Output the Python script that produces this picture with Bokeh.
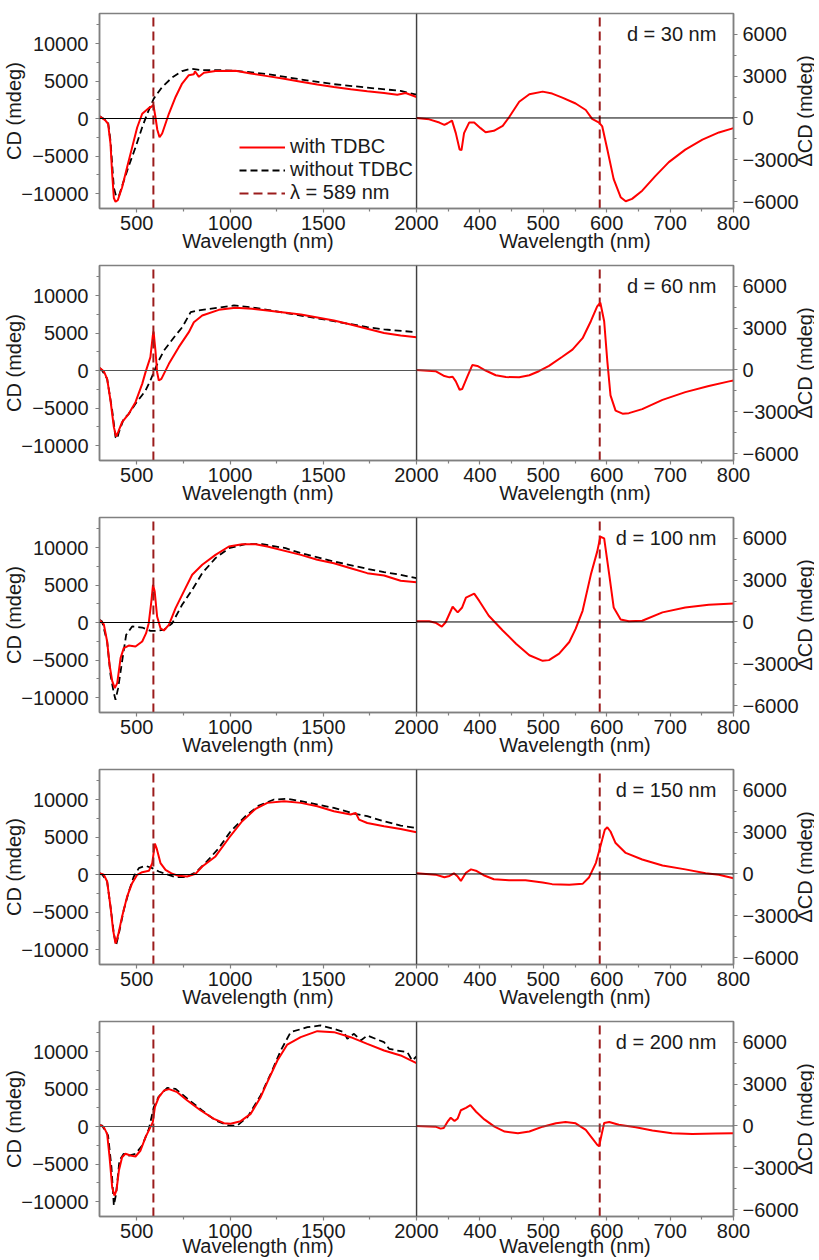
from bokeh.plotting import figure
from bokeh.layouts import row, column
from bokeh.models import Range1d, FixedTicker, Span, Label, Legend, LegendItem
from bokeh.core.properties import value
from bokeh.embed import file_html
from bokeh.resources import INLINE

# ---------------- data ----------------
thickness_labels = ["d = 30 nm", "d = 60 nm", "d = 100 nm", "d = 150 nm", "d = 200 nm"]
lam_line = 589

# d = 30 nm
wl1_with = [300, 332, 346, 359, 368, 377, 386, 398, 421, 448, 475, 502, 529, 565, 580, 589, 600, 610, 622, 636, 672, 708, 743, 779, 806, 812, 833, 860, 922, 1029, 1111, 1200, 1290, 1380, 1468, 1557, 1647, 1736, 1826, 1897, 1942, 2000]
cd1_with = [300, -270, -700, -3400, -7400, -10600, -11100, -10900, -9200, -6500, -3850, -1200, 630, 1400, 1600, 1800, 200, -1500, -2500, -2000, 630, 2870, 4660, 5780, 5900, 6300, 5560, 6100, 6320, 6370, 6000, 5650, 5290, 4890, 4530, 4210, 3900, 3630, 3400, 3180, 3400, 2870]
wl1_wo = [300, 330, 346, 359, 377, 389, 404, 421, 457, 493, 529, 556, 591, 636, 690, 743, 789, 843, 932, 1029, 1200, 1380, 1557, 1736, 1915, 2000]
cd1_wo = [300, -150, -500, -3000, -9240, -10360, -10360, -9000, -6320, -3860, -1170, 630, 2650, 4210, 5470, 6320, 6640, 6460, 6460, 6370, 5920, 5200, 4570, 4120, 3680, 3180]
dwl1 = [300, 320, 336, 344, 349, 356, 362, 368, 371, 375, 383, 391, 401, 409, 422, 436, 446, 462, 478, 499, 514, 530, 551, 567, 577, 588, 593, 601, 611, 622, 630, 640, 656, 677, 698, 724, 751, 777, 800]
dcd1 = [0, -100, -330, -500, -380, -190, -1090, -2270, -2310, -1090, -330, -330, -730, -1020, -920, -570, 50, 1160, 1700, 1890, 1750, 1460, 1040, 570, -70, -330, -610, -2270, -4390, -5690, -5980, -5810, -5220, -4160, -3170, -2270, -1560, -1040, -730]

# d = 60 nm
wl2_with = [300, 323, 341, 359, 377, 389, 400, 421, 457, 493, 529, 547, 573, 586, 590, 600, 609, 618, 632, 672, 725, 779, 806, 851, 940, 1029, 1118, 1200, 1380, 1557, 1647, 1736, 1826, 1915, 2000]
cd2_with = [350, -90, -1110, -4000, -7550, -8800, -8220, -6890, -5780, -4220, -1780, -220, 1780, 4670, 5200, 2670, -220, -1330, -1110, 890, 3110, 5110, 6440, 7330, 8090, 8360, 8220, 8000, 7470, 6670, 6130, 5560, 5000, 4670, 4440]
wl2_wo = [300, 314, 341, 368, 386, 395, 404, 430, 457, 493, 547, 573, 591, 618, 646, 700, 744, 789, 825, 932, 1021, 1110, 1200, 1380, 1557, 1736, 1826, 2000]
cd2_wo = [350, 0, -1110, -5330, -8890, -9110, -8220, -6440, -5780, -4440, -2670, -1330, -220, 1330, 2670, 4440, 5780, 7780, 8000, 8360, 8670, 8440, 8090, 7330, 6580, 5780, 5470, 5110]
dwl2 = [300, 330, 344, 352, 357, 362, 368, 372, 380, 388, 396, 409, 425, 441, 462, 478, 493, 509, 530, 546, 562, 575, 585, 590, 596, 601, 606, 614, 625, 635, 656, 688, 724, 761, 793, 800]
dcd2 = [0, -90, -440, -530, -490, -820, -1420, -1370, -490, 350, 290, -40, -380, -510, -530, -380, -90, 290, 950, 1460, 2280, 3500, 4560, 4830, 3500, 620, -1820, -2920, -3140, -3100, -2810, -2150, -1590, -1150, -820, -750]

# d = 100 nm
wl3_with = [300, 323, 341, 354, 368, 382, 395, 413, 430, 457, 493, 529, 550, 564, 578, 587, 596, 609, 627, 645, 672, 708, 761, 797, 851, 922, 994, 1065, 1137, 1200, 1380, 1468, 1557, 1647, 1736, 1826, 1915, 2000]
cd3_with = [350, -220, -2530, -5640, -7780, -8750, -8090, -4750, -3420, -3070, -3200, -2530, -1420, -90, 2800, 5020, 4130, 800, -760, -1070, -310, 1910, 4580, 6360, 7690, 9020, 10130, 10440, 10440, 10130, 9020, 8360, 7910, 7240, 6580, 6270, 5560, 5380]
wl3_wo = [300, 314, 341, 359, 377, 386, 400, 421, 443, 475, 529, 573, 609, 645, 690, 743, 797, 851, 922, 994, 1083, 1173, 1298, 1380, 1557, 1736, 1826, 1915, 2000]
cd3_wo = [350, 130, -2530, -6980, -9420, -10310, -8750, -5200, -1640, -530, -670, -1110, -1110, -980, -90, 2360, 4360, 6580, 8580, 9910, 10440, 10440, 9910, 9240, 8130, 7160, 6710, 6360, 5910]
dwl3 = [300, 320, 330, 340, 346, 357, 365, 372, 378, 391, 399, 414, 436, 457, 478, 499, 509, 525, 541, 551, 562, 575, 585, 590, 596, 604, 611, 622, 635, 656, 688, 724, 761, 800]
dcd3 = [50, 50, -50, -330, -20, 1090, 690, 1040, 1750, 2030, 1510, 450, -610, -1560, -2390, -2790, -2740, -2270, -1440, -500, 800, 3400, 5050, 6120, 6000, 3400, 1040, 170, 50, 90, 690, 1040, 1230, 1320]

# d = 150 nm
wl4_with = [300, 323, 341, 359, 373, 386, 400, 421, 448, 475, 502, 529, 565, 583, 597, 606, 627, 654, 690, 725, 770, 815, 851, 922, 994, 1065, 1137, 1200, 1290, 1380, 1468, 1557, 1647, 1674, 1692, 1736, 1826, 1915, 2000]
cd4_with = [180, -40, -940, -4290, -7410, -9200, -8080, -5620, -2950, -1160, -40, 310, 490, 1520, 4110, 3530, 1520, 620, 90, -180, -270, 90, 1070, 2410, 4870, 7100, 8750, 9550, 9780, 9550, 9110, 8440, 7990, 8210, 7320, 6870, 6430, 6070, 5620]
wl4_wo = [300, 314, 341, 359, 377, 389, 404, 430, 457, 484, 511, 547, 583, 618, 654, 708, 761, 815, 868, 940, 1003, 1083, 1155, 1236, 1307, 1380, 1557, 1665, 1736, 1826, 1915, 2000]
cd4_wo = [180, 0, -940, -4290, -7860, -9420, -7860, -4730, -2280, -270, 850, 1160, 850, 400, 90, -360, -360, 270, 1520, 3530, 5760, 7770, 9200, 10000, 10090, 9780, 8880, 8120, 7770, 7100, 6520, 6210]
dwl4 = [300, 330, 344, 352, 359, 365, 370, 378, 386, 395, 406, 422, 446, 472, 499, 514, 541, 562, 572, 583, 590, 597, 601, 606, 614, 630, 656, 688, 724, 756, 777, 800]
dcd4 = [50, -50, -240, -140, 50, -190, -500, 90, 330, 210, -90, -380, -450, -450, -610, -730, -780, -710, -260, 800, 1980, 3170, 3350, 3050, 2220, 1510, 1040, 610, 330, 50, -50, -310]

# d = 200 nm
wl5_with = [300, 323, 341, 354, 368, 380, 391, 404, 421, 439, 466, 493, 520, 547, 573, 586, 597, 618, 646, 673, 717, 771, 843, 914, 968, 1003, 1057, 1111, 1164, 1200, 1254, 1307, 1379, 1468, 1557, 1647, 1736, 1826, 1915, 2000]
cd5_with = [220, -90, -980, -4090, -8090, -9200, -8530, -5870, -4090, -3640, -3870, -4000, -3200, -1420, -90, 580, 2580, 3910, 4800, 4980, 4580, 3470, 2130, 1020, 440, 360, 710, 1690, 3910, 5910, 8800, 10930, 11910, 12710, 12580, 11910, 11020, 10130, 9470, 8440]
wl5_wo = [300, 314, 346, 364, 377, 389, 407, 430, 457, 493, 529, 565, 591, 618, 663, 708, 779, 851, 922, 994, 1039, 1093, 1164, 1218, 1272, 1325, 1415, 1486, 1557, 1611, 1629, 1665, 1701, 1736, 1826, 1853, 1897, 1951, 1977, 2000]
cd5_wo = [220, 130, -1200, -5420, -10530, -8980, -4530, -3640, -3870, -3640, -2530, -310, 2580, 4000, 5160, 5020, 3560, 2130, 800, 130, 130, 1240, 4130, 7020, 10130, 12580, 13240, 13470, 13020, 12580, 11690, 12360, 11470, 12130, 11240, 10360, 10130, 9910, 8800, 9330]
dwl5 = [300, 330, 338, 343, 349, 354, 360, 365, 370, 378, 385, 394, 407, 423, 439, 460, 478, 499, 520, 535, 551, 567, 577, 585, 588, 592, 596, 604, 619, 646, 672, 703, 735, 772, 800]
dcd5 = [0, -50, -190, -140, 310, 590, 350, 540, 1130, 1300, 1490, 1020, 470, -50, -400, -520, -400, -50, 190, 280, 190, -280, -870, -1350, -1460, -610, 210, 280, 90, -90, -330, -520, -570, -540, -520]

left_x_ticks = [500, 1000, 1500, 2000]
left_x_minor = [750, 1250, 1750]
left_y_ticks = [-10000, -5000, 0, 5000, 10000]
left_y_minor = [-7500, -2500, 2500, 7500, 12500]
right_x_ticks = [400, 500, 600, 700, 800]
right_x_minor = [350, 450, 550, 650, 750]
right_y_ticks = [-6000, -3000, 0, 3000, 6000]
right_y_minor = [-4500, -1500, 1500, 4500]

rows_data = [
    (wl1_with, cd1_with, wl1_wo, cd1_wo, dwl1, dcd1),
    (wl2_with, cd2_with, wl2_wo, cd2_wo, dwl2, dcd2),
    (wl3_with, cd3_with, wl3_wo, cd3_wo, dwl3, dcd3),
    (wl4_with, cd4_with, wl4_wo, cd4_wo, dwl4, dcd4),
    (wl5_with, cd5_with, wl5_wo, cd5_wo, dwl5, dcd5),
]

# ---------------- style ----------------
FONT = "Liberation Sans"
TXT = "#1a1a1a"
AXC = "#808080"
RED = "#ff0000"
LAMC = "#9b1c1c"
FS = "20px"
LX = (300, 2000)
LY = (-12000, 14000)
RX = (300, 800)
RY = (-6500, 7500)
OVER = 24  # overlap so the left "2000" label can straddle the panel join
ZERO_COLORS = ["black", "#555555", "black", "black", "#555555"]


def style_axis(ax, ticks, minor, label, standoff, lab_standoff):
    ax.ticker = FixedTicker(ticks=ticks, minor_ticks=minor)
    ax.axis_label = label
    ax.axis_line_color = AXC
    ax.axis_line_width = 1.5
    ax.major_tick_line_color = AXC
    ax.minor_tick_line_color = AXC
    ax.major_tick_line_width = 1.2
    ax.minor_tick_line_width = 1.2
    ax.major_tick_out = 4
    ax.major_tick_in = 0
    ax.minor_tick_out = 3
    ax.minor_tick_in = 0
    ax.major_label_text_font = FONT
    ax.major_label_text_font_size = FS
    ax.major_label_text_color = TXT
    ax.axis_label_text_font = FONT
    ax.axis_label_text_font_size = FS
    ax.axis_label_text_color = TXT
    ax.axis_label_text_font_style = "normal"
    ax.major_label_standoff = standoff
    ax.axis_label_standoff = lab_standoff


def base_fig(xr, yr, yloc, mt, mb, ml, mr, zc):
    p = figure(frame_width=317, frame_height=195,
               x_range=Range1d(*xr), y_range=Range1d(*yr),
               y_axis_location=yloc, output_backend="svg",
               toolbar_location=None, min_border=0,
               min_border_left=ml, min_border_right=mr,
               min_border_top=mt, min_border_bottom=mb)
    p.grid.visible = False
    p.outline_line_color = AXC
    p.outline_line_width = 1.5
    p.background_fill_color = "white"
    p.add_layout(Span(location=0, dimension="width", line_color=zc, line_width=1))
    return p


figs = []
for i, (wlw, cdw, wlo, cdo, dwl, dcd) in enumerate(rows_data):
    mt = 13 if i == 0 else 9
    lab_so = -3 if i < 4 else -6
    mb = 48 if i < 4 else 0
    zc = ZERO_COLORS[i]
    # left panel
    L = base_fig(LX, LY, "left", mt, mb, 89, OVER, zc)
    L.border_fill_alpha = 0
    style_axis(L.xaxis[0], left_x_ticks, left_x_minor, "Wavelength (nm)", 3, lab_so)
    style_axis(L.yaxis[0], left_y_ticks, left_y_minor, "CD (mdeg)", 7, -7)
    r_wo = L.line(wlo, cdo, line_color="black", line_width=1.8, line_dash="7 4")
    r_w = L.line(wlw, cdw, line_color=RED, line_width=2)
    r_lam = L.line([lam_line, lam_line], list(LY), line_color=LAMC, line_width=2, line_dash="9 5")
    if i == 0:
        leg = Legend(items=[LegendItem(label="with TDBC", renderers=[r_w]),
                            LegendItem(label="without TDBC", renderers=[r_wo]),
                            LegendItem(label="\u03bb = 589 nm", renderers=[r_lam])],
                     location=(140, 4), background_fill_alpha=0, border_line_alpha=0,
                     padding=0, margin=0, spacing=0, label_height=22, glyph_height=22,
                     glyph_width=46, label_standoff=5, label_text_font=FONT,
                     label_text_font_size=FS, label_text_color=TXT)
        L.add_layout(leg)
    # right panel
    R = base_fig(RX, RY, "right", mt, mb, 0, 0, zc)
    R.border_fill_alpha = 0
    R.margin = (0, 0, 0, -OVER)
    style_axis(R.xaxis[0], right_x_ticks, right_x_minor, "Wavelength (nm)", 3, lab_so)
    style_axis(R.yaxis[0], right_y_ticks, right_y_minor, None, 5, 0)
    R.add_layout(Span(location=RX[0], dimension="height", line_color="black", line_width=1.2))
    R.line([lam_line, lam_line], list(RY), line_color=LAMC, line_width=2, line_dash="9 5")
    R.line(dwl, dcd, line_color=RED, line_width=2)
    R.add_layout(Label(x=773, y=6050, text=thickness_labels[i], text_align="right",
                       text_baseline="middle", text_font=FONT, text_font_size=FS,
                       text_color=TXT))
    # narrow strip holding the right-axis title, reading upward
    T = figure(frame_width=20, frame_height=195, x_range=Range1d(0, 1),
               y_range=Range1d(*RY), output_backend="svg", toolbar_location=None,
               min_border=0, min_border_top=mt)
    T.margin = (0, 0, 0, -7)
    T.axis.visible = False
    T.grid.visible = False
    T.outline_line_color = None
    T.background_fill_alpha = 0
    T.border_fill_alpha = 0
    T.text(x=[0.5], y=[(RY[0] + RY[1]) / 2], text=["\u0394CD (mdeg)"], angle=90,
           angle_units="deg", text_align="center", text_baseline="middle",
           text_font=value(FONT), text_font_size=value(FS), text_color=TXT)
    figs.append(row(L, R, T))

layout = column(*figs)
open("out.html", "w").write(file_html(layout, INLINE))
